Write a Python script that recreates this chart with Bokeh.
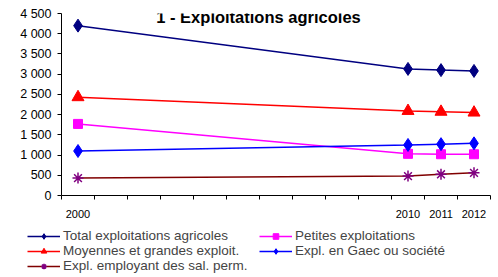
from bokeh.plotting import figure
from bokeh.models import FixedTicker, Legend, LegendItem, Label
from bokeh.layouts import column
from bokeh.embed import file_html
from bokeh.resources import INLINE

years = [2000, 2010, 2011, 2012]
year_labels = ["2000", "2010", "2011", "2012"]
total = [4200, 3130, 3100, 3080]
moyennes = [2430, 2090, 2070, 2050]
petites = [1770, 1030, 1020, 1020]
gaec = [1100, 1250, 1270, 1290]
salperm = [430, 480, 525, 560]
y_ticks = [0, 500, 1000, 1500, 2000, 2500, 3000, 3500, 4000, 4500]
title_text = "1 - Exploitations agricoles"

FONT = "Liberation Sans"
NAN = float("nan")
x0 = 2000
xs = [y - x0 for y in years]

p = figure(width=498, height=222, output_backend="svg", toolbar_location=None,
           x_range=(-0.5, 12.5), y_range=(0, 4500),
           min_border_left=61, min_border_top=13, min_border_right=8, min_border_bottom=27)
p.outline_line_color = None
p.xgrid.grid_line_color = None
p.ygrid.grid_line_color = None

# axes
p.yaxis.ticker = FixedTicker(ticks=y_ticks, minor_ticks=[])
p.yaxis.major_label_overrides = {t: (f"{t:,}".replace(",", " ")) for t in y_ticks}
p.yaxis.major_tick_out = 4
p.yaxis.major_tick_in = 0
p.yaxis.major_label_standoff = 6
p.yaxis.major_label_text_font = FONT
p.yaxis.major_label_text_font_size = "12.5px"
p.yaxis.major_label_text_color = "black"
p.yaxis.axis_line_color = "black"
p.yaxis.major_tick_line_color = "black"

p.xaxis.ticker = FixedTicker(ticks=xs, minor_ticks=[i - 0.5 for i in range(14)])
p.xaxis.major_label_overrides = {x: l for x, l in zip(xs, year_labels)}
p.xaxis.major_tick_out = 0
p.xaxis.major_tick_in = 0
p.xaxis.minor_tick_out = 4
p.xaxis.minor_tick_in = 0
p.xaxis.minor_tick_line_color = "black"
p.xaxis.major_label_standoff = 10
p.xaxis.major_label_text_font = FONT
p.xaxis.major_label_text_font_size = "11px"
p.xaxis.major_label_text_color = "black"
p.xaxis.axis_line_color = "black"

# legend fills column by column: (Total, Moyennes, Sal. perm.), (Petites, Gaec)
series = [
    ("Total exploitations agricoles", total, "#000080", "#000080", "diamond", 13),
    ("Moyennes et grandes exploit.", moyennes, "#FF0000", "#FF0000", "triangle", 12),
    ("Expl. employant des sal. perm.", salperm, "#800000", "#800080", "asterisk", 11),
    ("Petites exploitations", petites, "#FF00FF", "#FF00FF", "square", 9),
    ("Expl. en Gaec ou société", gaec, "#0000FF", "#0000FF", "diamond", 13),
]

# legend strip
lf = figure(width=498, height=55, output_backend="svg", toolbar_location=None,
            x_range=(0, 1), y_range=(0, 1), min_border=0)
lf.outline_line_color = None
lf.axis.visible = False
lf.grid.visible = False
try:
    lf.frame_align = False
except Exception:
    pass

items = []
for name, vals, lc, mc, marker, size in series:
    p.line(xs, vals, line_color=lc, line_width=1.5)
    if marker == "asterisk":
        p.scatter(xs, vals, marker=marker, size=size, line_color=mc, line_width=1.5)
    else:
        p.scatter(xs, vals, marker=marker, size=size, fill_color=mc, line_color=mc)
    # legend proxies (NaN so nothing is drawn in the strip itself)
    l1 = lf.line([NAN], [NAN], line_color=lc, line_width=1.5)
    if marker == "asterisk":
        l2 = lf.scatter([NAN], [NAN], marker=marker, size=size - 1, line_color=mc, line_width=1.5)
    else:
        l2 = lf.scatter([NAN], [NAN], marker=marker, size=size - 2, fill_color=mc, line_color=mc)
    items.append(LegendItem(label=name, renderers=[l1, l2]))

legend = Legend(items=items, ncols=2, orientation="vertical", location=(27, 4),
                label_text_font=FONT, label_text_font_size="13.5px", label_text_line_height=1.0,
                label_height=14, glyph_height=14, glyph_width=33, label_width=196,
                label_standoff=3, spacing=0, padding=0, margin=0,
                border_line_color=None, background_fill_alpha=0)
lf.add_layout(legend, "center")

p.add_layout(Label(x=5.47, y=4405, text=title_text, text_align="center", text_baseline="middle",
                   text_font=FONT, text_font_style="bold", text_font_size="16.5px", text_color="black"))

open("out.html", "w").write(file_html(column(p, lf), INLINE))
